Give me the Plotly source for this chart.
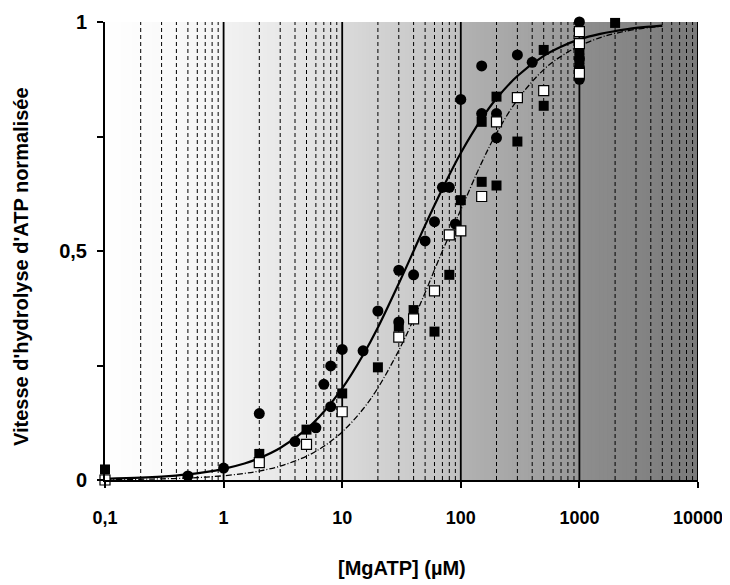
import plotly.graph_objects as go

# ---- data ----
circ_x = [0.5, 1, 2, 4, 6, 7, 8, 8, 10, 15, 20, 30, 30, 40, 50, 60, 70, 80, 90, 100,
          150, 150, 200, 200, 300, 400, 1000, 1000, 1000, 1000, 1000]
circ_y = [0.009, 0.026, 0.145, 0.084, 0.114, 0.209, 0.16, 0.249, 0.285, 0.282, 0.369, 0.458, 0.345,
          0.448, 0.522, 0.564, 0.639, 0.639, 0.559, 0.831,
          0.904, 0.80, 0.80, 0.747, 0.928, 0.912, 1.0, 0.95, 0.92, 0.90, 0.875]

bsq_x = [0.1, 2, 5, 10, 20, 30, 40, 60, 80, 100, 150, 150, 200, 200, 300, 500, 500,
         1000, 1000, 1000, 1000, 2000]
bsq_y = [0.023, 0.057, 0.11, 0.189, 0.246, 0.335, 0.371, 0.324, 0.448, 0.611, 0.782, 0.651,
         0.837, 0.643, 0.739, 0.939, 0.817, 0.94, 0.92, 0.90, 0.89, 0.998]

wsq_x = [0.1, 2, 5, 10, 30, 40, 60, 80, 100, 150, 200, 300, 500, 1000, 1000, 1000]
wsq_y = [0.0, 0.038, 0.078, 0.149, 0.312, 0.352, 0.413, 0.535, 0.544, 0.619, 0.782, 0.835,
         0.85, 0.979, 0.953, 0.888]

curve_x = [0.1, 0.2, 0.3, 0.5, 0.7, 1, 1.5, 2, 3, 5, 7, 10, 15, 20, 30, 40, 50, 70, 100,
           150, 200, 300, 500, 700, 1000, 1500, 2000, 3000, 5000]
solid_y = [0.0025, 0.005, 0.0074, 0.0123, 0.0172, 0.0244, 0.0361, 0.0476, 0.0698, 0.111,
           0.149, 0.2, 0.273, 0.333, 0.429, 0.5, 0.556, 0.636, 0.714, 0.789, 0.833, 0.882,
           0.926, 0.946, 0.962, 0.974, 0.980, 0.987, 0.992]
dash_y = [0.0007, 0.0016, 0.0025, 0.0043, 0.0063, 0.0093, 0.0144, 0.0196, 0.0303, 0.052,
          0.0736, 0.105, 0.155, 0.201, 0.283, 0.351, 0.409, 0.5, 0.590, 0.693, 0.757, 0.830,
          0.896, 0.925, 0.948, 0.966, 0.975, 0.984, 0.991]

x_tickvals = [0.1, 1, 10, 100, 1000, 10000]
x_ticktext = ["0,1", "1", "10", "100", "1000", "10000"]
y_tickvals = [0, 0.25, 0.5, 0.75, 1]
y_ticktext = ["0", "", "0,5", "", "1"]

# background gray levels per decade (start, end)
decade_grays = [(255, 244), (242, 222), (218, 192), (178, 152), (142, 122)]

FONT = "Liberation Sans, Arial, sans-serif"

fig = go.Figure()

fig.add_trace(go.Scatter(x=curve_x, y=solid_y, mode="lines", line=dict(color="black", width=2.2, shape="spline"),
                         hoverinfo="skip", cliponaxis=False))
fig.add_trace(go.Scatter(x=curve_x, y=dash_y, mode="lines",
                         line=dict(color="black", width=1.3, dash="6px,2px,1px,2px", shape="spline"),
                         hoverinfo="skip", cliponaxis=False))
fig.add_trace(go.Scatter(x=circ_x, y=circ_y, mode="markers", cliponaxis=False,
                         marker=dict(symbol="circle", size=11, color="black")))
fig.add_trace(go.Scatter(x=bsq_x, y=bsq_y, mode="markers", cliponaxis=False,
                         marker=dict(symbol="square", size=10, color="black")))
fig.add_trace(go.Scatter(x=wsq_x, y=wsq_y, mode="markers", cliponaxis=False,
                         marker=dict(symbol="square", size=10, color="white",
                                     line=dict(color="black", width=1.2))))

shapes = []
steps = 30
for d, (g0, g1) in enumerate(decade_grays):
    lo = 10 ** (d - 1)
    for s in range(steps):
        a = lo * 10 ** (s / steps)
        b = lo * 10 ** (min(s + 1.6, steps) / steps)
        g = round(g0 + (g1 - g0) * (s + 0.5) / steps)
        shapes.append(dict(type="rect", xref="x", yref="y", x0=a, x1=b, y0=0, y1=1,
                           fillcolor=f"rgb({g},{g},{g})", line=dict(width=0), layer="below"))
    for k in range(2, 10):
        xv = lo * k
        shapes.append(dict(type="line", xref="x", yref="y", x0=xv, x1=xv, y0=0, y1=1,
                           line=dict(color="black", width=1, dash="4px,3px"), layer="between"))
    if d > 0:
        shapes.append(dict(type="line", xref="x", yref="y", x0=lo, x1=lo, y0=0, y1=1,
                           line=dict(color="black", width=1.8), layer="between"))
shapes.append(dict(type="line", xref="x", yref="y", x0=10000, x1=10000, y0=0, y1=1,
                   line=dict(color="black", width=2), layer="between"))

fig.update_layout(
    width=722, height=577,
    margin=dict(l=97, r=32, t=14, b=105),
    paper_bgcolor="white", plot_bgcolor="white",
    showlegend=False,
    shapes=shapes,
    font=dict(family=FONT, color="black"),
    xaxis=dict(type="log", range=[-1, 4], tickvals=x_tickvals, ticktext=x_ticktext,
               automargin=False,
               showgrid=False, zeroline=False, showline=True, linecolor="black", linewidth=2,
               ticks="outside", ticklen=6, tickwidth=1.5, tickcolor="black",
               tickfont=dict(family=FONT, size=18, color="black", weight="bold"),
               ticklabelstandoff=14),
    yaxis=dict(range=[0, 1], tickvals=y_tickvals, ticktext=y_ticktext,
               automargin=False,
               showgrid=False, zeroline=False, showline=True, linecolor="black", linewidth=2,
               ticks="outside", ticklen=6, tickwidth=1.5, tickcolor="black",
               tickfont=dict(family=FONT, size=20, color="black", weight="bold"),
               ticklabelstandoff=6),
    annotations=[
        dict(text="<b>[MgATP] (µM)</b>", xref="paper", yref="paper", x=0.5, y=0,
             yshift=-88, xanchor="center", yanchor="middle", showarrow=False,
             font=dict(family=FONT, size=20, color="black")),
        dict(text="<b>Vitesse d'hydrolyse d'ATP normalisée</b>", xref="paper", yref="paper",
             x=0, xshift=-84, y=0.5, yshift=-16, xanchor="center", yanchor="middle",
             textangle=-90, showarrow=False, font=dict(family=FONT, size=20, color="black")),
    ],
)

fig.write_html("out.html")
